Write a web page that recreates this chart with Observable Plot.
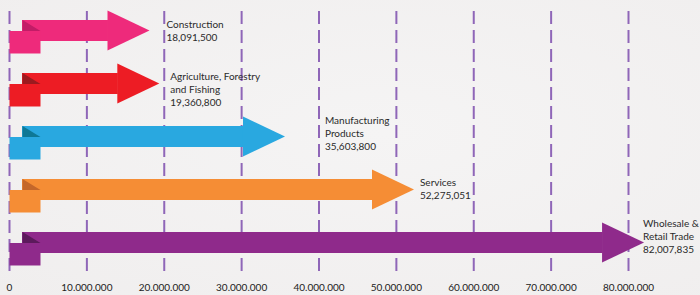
<!DOCTYPE html>
<html>
<head>
<meta charset="utf-8">
<script src="https://cdn.jsdelivr.net/npm/d3@7"></script>
<script src="https://cdn.jsdelivr.net/npm/@observablehq/plot@0.6"></script>
<style>
  html, body { margin: 0; padding: 0; background: #f2f0f0; }
  #chart { width: 700px; height: 295px; background: radial-gradient(ellipse at 55% 45%, #f5f4f4 0%, #f0eeee 100%); }
  svg { font-family: Lato, "Open Sans", sans-serif; }
</style>
</head>
<body>
<div id="chart"></div>
<script>
// ---- data ----
const categories = ["Construction", "Agriculture", "Manufacturing", "Services", "Wholesale"];
const labelNames = ["Construction", "Agriculture, Forestry\nand Fishing", "Manufacturing\nProducts", "Services", "Wholesale &\nRetail Trade"];
const values = [18091500, 19360800, 35603800, 52275051, 82007835];
const xTicks = [0, 10000000, 20000000, 30000000, 40000000, 50000000, 60000000, 70000000, 80000000];
const xTickLabels = ["0", "10.000.000", "20.000.000", "30.000.000", "40.000.000", "50.000.000", "60.000.000", "70.000.000", "80.000.000"];

// ---- styles ----
const palette = ["#ee2a7b", "#ed1c24", "#29a8e0", "#f58d35", "#8f2a8b"];
const darkPalette = ["#c21c67", "#9c1a1f", "#0e7896", "#c4672a", "#5c1a5c"];
// per-label pixel nudges [dx, dy]
const labelNudge = [[17, 0], [11, 5], [40, -3.5], [6, -1], [-1, -7]];

const rows = categories.map((c, i) => ({
  category: c,
  value: values[i],
  color: palette[i],
  dark: darkPalette[i],
  label: labelNames[i] + "\n" + d3.format(",")(values[i])
}));

const head = {draw(ctx) { ctx.moveTo(0, 0); ctx.lineTo(-42, -20); ctx.lineTo(-42, 20); ctx.closePath(); }};
const tab = {draw(ctx) { ctx.moveTo(0, 0.5); ctx.lineTo(31, 0.5); ctx.lineTo(31, 23); ctx.lineTo(0, 23); ctx.closePath(); }};
const fold = {draw(ctx) { ctx.moveTo(13, -10.5); ctx.lineTo(31, 0.5); ctx.lineTo(13, 0.5); ctx.closePath(); }};

const chart = Plot.plot({
  width: 700,
  height: 295,
  marginLeft: 9,
  marginRight: 72,
  marginTop: 11,
  marginBottom: 23,
  style: {background: "transparent", fontFamily: "Lato, 'Open Sans', sans-serif"},
  x: {domain: [0, 80000000], axis: null},
  y: {type: "point", domain: categories, padding: 0, insetTop: 18.5, insetBottom: 30, axis: null},
  color: {type: "identity"},
  marks: [
    Plot.gridX(xTicks, {stroke: "#8f66b8", strokeOpacity: 1, strokeWidth: 2, strokeDasharray: "13,6"}),
    Plot.axisX(xTicks, {
      ticks: xTicks,
      tickSize: 0,
      tickPadding: 11,
      tickFormat: d => xTickLabels[xTicks.indexOf(d)],
      fontSize: 10,
      fill: "#222",
      label: null
    }),
    Plot.ruleY(rows, {y: "category", x1: d => 0, x2: "value", stroke: "color", strokeWidth: 21, insetLeft: 13, insetRight: 41}),
    Plot.dot(rows, {x: "value", y: "category", symbol: head, r: 10, fill: "color"}),
    Plot.dot(rows, {x: d => 0, y: "category", symbol: tab, r: 10, fill: "color"}),
    Plot.dot(rows, {x: d => 0, y: "category", symbol: fold, r: 10, fill: "dark"}),
    ...rows.map((row, i) => Plot.text([row], {
      x: "value", y: "category", text: "label",
      textAnchor: "start", lineAnchor: "middle", lineHeight: 1.3,
      fontSize: 10, fill: "#2a2a2a",
      dx: labelNudge[i][0], dy: labelNudge[i][1]
    }))
  ]
});
document.getElementById("chart").appendChild(chart);
</script>
</body>
</html>
